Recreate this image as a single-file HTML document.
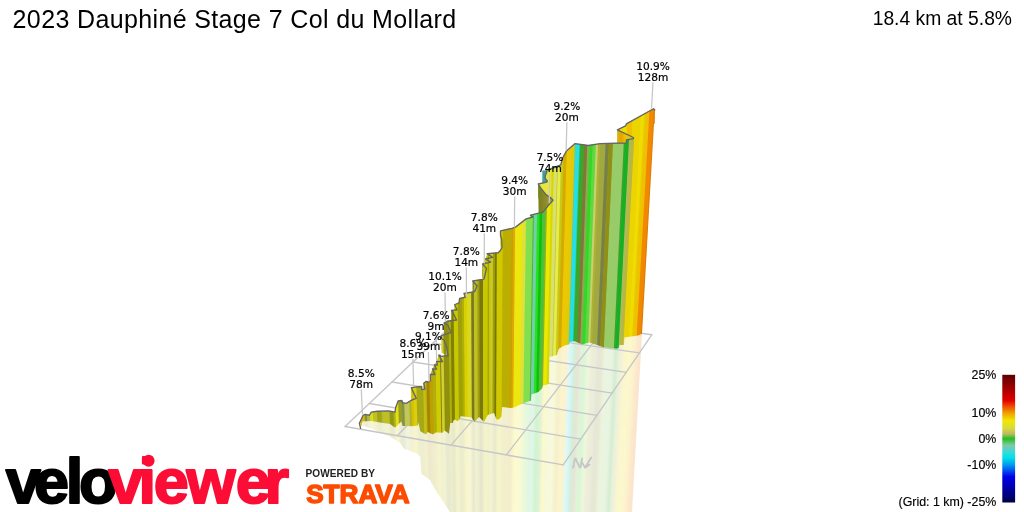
<!DOCTYPE html>
<html lang="en"><head><meta charset="utf-8"><title>2023 Dauphiné Stage 7 Col du Mollard</title>
<style>
html,body{margin:0;padding:0;background:#fff;}
body{width:1024px;height:512px;overflow:hidden;position:relative;font-family:"Liberation Sans",sans-serif;}
svg{position:absolute;left:0;top:0;display:block;}
.t{font-family:"Liberation Sans",sans-serif;fill:#000;}
.lab text{font-family:"DejaVu Sans","Liberation Sans",sans-serif;font-size:10.6px;fill:#000;stroke:#000;stroke-width:0.2px;text-anchor:middle;}
.leg text{font-family:"Liberation Sans",sans-serif;font-size:12.4px;fill:#000;text-anchor:end;stroke:#000;stroke-width:0.15px;}
</style></head><body>
<svg width="1024" height="512" viewBox="0 0 1024 512">
<defs>
<clipPath id="cw"><polygon points="360.60,428.40 359.40,423.40 363.10,415.25 365.00,414.40 369.40,415.25 371.25,412.10 377.50,411.25 388.75,410.90 395.00,412.10 395.60,407.75 398.10,400.90 401.90,400.50 402.50,402.75 406.25,403.40 411.25,400.25 416.25,398.40 411.25,387.75 415.00,387.10 421.25,386.50 421.90,389.60 425.00,389.00 423.75,383.25 426.25,381.40 428.10,382.00 430.30,381.00 430.30,374.50 435.00,374.50 432.50,368.90 436.60,369.20 434.40,364.80 437.50,365.10 436.60,361.40 442.50,361.70 438.75,355.10 440.00,355.10 440.60,356.40 448.10,355.75 446.50,346.90 444.00,340.00 441.50,338.75 441.50,335.60 450.90,332.50 447.75,325.00 444.00,323.10 447.10,321.25 456.50,320.00 453.40,313.50 451.50,310.40 457.10,309.75 454.60,304.75 459.00,302.90 459.60,298.50 465.25,297.25 464.00,293.50 474.60,291.60 477.10,286.00 472.75,281.00 484.00,279.10 486.50,268.50 482.60,264.00 490.75,262.10 485.40,259.00 492.60,257.40 487.30,253.70 498.25,252.75 500.50,250.25 502.00,247.75 501.75,239.60 500.50,235.25 500.50,230.90 511.75,228.40 515.50,227.10 526.10,218.90 533.00,217.00 530.50,215.10 538.60,213.10 543.00,212.00 543.75,211.10 546.25,208.00 550.00,203.60 553.00,200.25 550.50,197.50 546.25,194.90 541.25,188.60 538.25,184.00 546.70,182.20 547.30,181.00 545.40,178.75 545.10,176.25 546.70,172.20 546.70,170.30 553.00,168.00 560.75,164.90 562.60,158.00 566.40,151.10 575.10,143.60 588.25,145.50 600.10,143.60 608.00,143.30 626.40,143.00 626.40,139.80 633.40,138.70 633.40,137.50 617.40,129.90 625.60,125.80 626.40,123.80 653.50,108.75 654.75,110.00 642.00,333.75 638.25,335.60 624.50,337.50 623.90,345.00 619.50,345.00 618.90,348.10 617.00,348.75 603.25,347.25 597.00,345.00 589.50,342.50 582.00,344.40 574.50,341.25 569.50,341.90 568.90,344.40 564.50,345.60 558.90,348.75 557.00,355.00 549.50,356.90 549.10,383.90 542.90,385.75 542.25,388.25 538.50,392.00 531.60,394.50 531.00,400.75 524.00,403.10 514.00,407.50 510.90,408.10 502.10,406.90 501.50,416.25 499.00,419.40 496.50,419.40 494.00,413.10 487.75,415.00 484.00,421.90 479.00,416.90 474.60,421.90 471.50,417.50 460.90,416.25 459.60,418.75 457.75,421.25 454.00,419.40 452.75,423.10 450.25,423.10 449.00,433.75 444.60,430.60 442.75,432.75 435.90,432.50 432.75,434.40 427.75,431.90 425.90,434.40 420.25,431.25 418.40,422.50 417.75,425.60 412.75,426.25 402.50,425.90 401.25,421.50 395.00,427.75 390.00,424.00 381.25,422.75 371.25,420.90 362.50,421.50 360.60,428.40"/><polygon points="482.60,264.00 485.40,259.00 487.30,253.70 492.60,257.40 490.75,262.10"/><polygon points="430.30,374.50 432.50,368.90 434.40,364.80 436.60,361.40 438.75,355.10 442.50,361.70 437.50,365.10 436.60,369.20 435.00,374.50"/><polygon points="398.10,400.70 401.90,400.30 401.90,411.50 398.10,411.90"/><polygon points="401.90,400.30 402.50,402.55 402.50,413.75 401.90,411.50"/><polygon points="402.50,402.55 406.25,403.20 406.25,414.40 402.50,413.75"/><polygon points="406.25,403.20 411.25,400.05 411.25,411.25 406.25,414.40"/><polygon points="411.25,400.05 416.25,398.20 416.25,409.40 411.25,411.25"/><polygon points="416.25,398.20 411.25,387.55 411.25,398.75 416.25,409.40"/><polygon points="411.25,387.55 415.00,386.90 415.00,398.10 411.25,398.75"/><polygon points="415.00,386.90 421.25,386.30 421.25,397.50 415.00,398.10"/><polygon points="421.25,386.30 421.90,389.40 421.90,400.60 421.25,397.50"/><polygon points="421.90,389.40 425.00,388.80 425.00,400.00 421.90,400.60"/><polygon points="425.00,388.80 423.75,383.05 423.75,394.25 425.00,400.00"/><polygon points="423.75,383.05 426.25,381.20 426.25,392.40 423.75,394.25"/><polygon points="426.25,381.20 428.10,381.80 428.10,396.00 426.25,395.40"/><polygon points="428.10,381.80 430.30,380.80 430.30,395.00 428.10,396.00"/><polygon points="430.30,374.30 435.00,374.30 435.00,388.50 430.30,388.50"/><polygon points="435.00,374.30 432.50,368.70 432.50,382.90 435.00,388.50"/><polygon points="432.50,368.70 436.60,369.00 436.60,383.20 432.50,382.90"/><polygon points="436.60,369.00 434.40,364.60 434.40,378.80 436.60,383.20"/><polygon points="434.40,364.60 437.50,364.90 437.50,379.10 434.40,378.80"/><polygon points="437.50,364.90 436.60,361.20 436.60,375.40 437.50,379.10"/><polygon points="436.60,361.20 442.50,361.50 442.50,375.70 436.60,375.40"/><polygon points="442.50,361.50 438.75,354.90 438.75,369.10 442.50,375.70"/><polygon points="438.75,354.90 440.00,354.90 440.00,369.10 438.75,369.10"/><polygon points="440.00,354.90 440.60,356.20 440.60,370.40 440.00,369.10"/><polygon points="440.60,356.20 448.10,355.55 448.10,369.75 440.60,370.40"/><polygon points="448.10,355.55 446.50,346.70 446.50,360.90 448.10,369.75"/><polygon points="446.50,346.70 444.00,339.80 444.00,354.00 446.50,360.90"/><polygon points="444.00,339.80 441.50,338.55 441.50,352.75 444.00,354.00"/><polygon points="441.50,335.40 450.90,332.30 450.90,346.50 441.50,349.60"/><polygon points="450.90,332.30 447.75,324.80 447.75,339.00 450.90,346.50"/><polygon points="447.75,324.80 444.00,322.90 444.00,337.10 447.75,339.00"/><polygon points="444.00,322.90 447.10,321.05 447.10,335.25 444.00,337.10"/><polygon points="447.10,321.05 456.50,319.80 456.50,334.00 447.10,335.25"/><polygon points="456.50,319.80 453.40,313.30 453.40,327.50 456.50,334.00"/><polygon points="453.40,313.30 451.50,310.20 451.50,324.40 453.40,327.50"/><polygon points="451.50,310.20 457.10,309.55 457.10,323.75 451.50,324.40"/><polygon points="457.10,309.55 454.60,304.55 454.60,318.75 457.10,323.75"/><polygon points="454.60,304.55 459.00,302.70 459.00,316.90 454.60,318.75"/><polygon points="459.00,302.70 459.60,298.30 459.60,312.50 459.00,316.90"/><polygon points="459.60,298.30 465.25,297.05 465.25,311.25 459.60,312.50"/><polygon points="465.25,297.05 464.00,293.30 464.00,307.50 465.25,311.25"/><polygon points="464.00,293.30 474.60,291.40 474.60,305.60 464.00,307.50"/><polygon points="474.60,291.40 477.10,285.80 477.10,300.00 474.60,305.60"/><polygon points="477.10,285.80 472.75,280.80 472.75,295.00 477.10,300.00"/><polygon points="472.75,280.80 484.00,278.90 484.00,293.10 472.75,295.00"/><polygon points="484.00,278.90 486.50,268.30 486.50,282.50 484.00,293.10"/><polygon points="486.50,268.30 482.60,263.80 482.60,278.00 486.50,282.50"/><polygon points="482.60,263.80 490.75,261.90 490.75,276.10 482.60,278.00"/><polygon points="490.75,261.90 485.40,258.80 485.40,273.00 490.75,276.10"/><polygon points="485.40,258.80 492.60,257.20 492.60,271.40 485.40,273.00"/><polygon points="492.60,257.20 487.30,253.50 487.30,267.70 492.60,271.40"/><polygon points="487.30,253.50 498.25,252.55 498.25,266.75 487.30,267.70"/><polygon points="498.25,252.55 500.50,250.05 500.50,264.25 498.25,266.75"/><polygon points="500.50,250.05 502.00,247.55 502.00,261.75 500.50,264.25"/><polygon points="501.75,239.40 500.50,235.05 500.50,249.25 501.75,253.60"/><polygon points="500.50,230.70 511.75,228.20 511.75,242.40 500.50,244.90"/><polygon points="511.75,228.20 515.50,226.90 515.50,241.10 511.75,242.40"/><polygon points="515.50,226.90 526.10,218.70 526.10,232.90 515.50,241.10"/><polygon points="526.10,218.70 533.00,216.80 533.00,231.00 526.10,232.90"/><polygon points="533.00,216.80 530.50,214.90 530.50,229.10 533.00,231.00"/><polygon points="530.50,214.90 538.60,212.90 538.60,227.10 530.50,229.10"/><polygon points="538.60,212.90 543.00,211.80 543.00,226.00 538.60,227.10"/><polygon points="543.00,211.80 543.75,210.90 543.75,225.10 543.00,226.00"/><polygon points="543.75,210.90 546.25,207.80 546.25,222.00 543.75,225.10"/><polygon points="546.25,207.80 550.00,203.40 550.00,217.60 546.25,222.00"/><polygon points="550.00,203.40 553.00,200.05 553.00,214.25 550.00,217.60"/><polygon points="553.00,200.05 550.50,197.30 550.50,211.50 553.00,214.25"/><polygon points="550.50,197.30 546.25,194.70 546.25,208.90 550.50,211.50"/><polygon points="546.25,194.70 541.25,188.40 541.25,202.60 546.25,208.90"/><polygon points="541.25,188.40 538.25,183.80 538.25,198.00 541.25,202.60"/><polygon points="538.25,183.80 546.70,182.00 546.70,196.20 538.25,198.00"/><polygon points="546.70,182.00 547.30,180.80 547.30,195.00 546.70,196.20"/><polygon points="547.30,180.80 545.40,178.55 545.40,192.75 547.30,195.00"/><polygon points="545.10,176.05 546.70,172.00 546.70,186.20 545.10,190.25"/><polygon points="546.70,170.10 553.00,167.80 553.00,182.00 546.70,184.30"/><polygon points="553.00,167.80 560.75,164.70 560.75,178.90 553.00,182.00"/><polygon points="560.75,164.70 562.60,157.80 562.60,172.00 560.75,178.90"/><polygon points="562.60,157.80 566.40,150.90 566.40,165.10 562.60,172.00"/><polygon points="566.40,150.90 575.10,143.40 575.10,157.60 566.40,165.10"/><polygon points="575.10,143.40 588.25,145.30 588.25,159.50 575.10,157.60"/><polygon points="588.25,145.30 600.10,143.40 600.10,157.60 588.25,159.50"/><polygon points="600.10,143.40 608.00,143.10 608.00,157.30 600.10,157.60"/><polygon points="608.00,143.10 626.40,142.80 626.40,157.00 608.00,157.30"/><polygon points="626.40,139.60 633.40,138.50 633.40,152.70 626.40,153.80"/><polygon points="633.40,137.30 617.40,129.70 617.40,143.90 633.40,151.50"/><polygon points="617.40,129.70 625.60,125.60 625.60,139.80 617.40,143.90"/><polygon points="625.60,125.60 626.40,123.60 626.40,137.80 625.60,139.80"/><polygon points="626.40,123.60 653.50,108.55 653.50,122.75 626.40,137.80"/><polygon points="653.50,108.55 654.75,109.80 654.75,124.00 653.50,122.75"/></clipPath>
<clipPath id="cr"><polygon points="361.00,425.00 372.50,429.00 390.00,436.50 400.00,442.75 402.50,446.50 404.00,448.75 417.75,453.75 420.25,456.90 421.25,473.75 430.00,480.00 436.25,491.25 443.75,502.50 450.50,513.00 632.00,513.00 642.00,333.75 638.25,335.60 624.50,337.50 623.90,345.00 619.50,345.00 618.90,348.10 617.00,348.75 603.25,347.25 597.00,345.00 589.50,342.50 582.00,344.40 574.50,341.25 569.50,341.90 568.90,344.40 564.50,345.60 558.90,348.75 557.00,355.00 549.50,356.90 549.10,383.90 542.90,385.75 542.25,388.25 538.50,392.00 531.60,394.50 531.00,400.75 524.00,403.10 514.00,407.50 510.90,408.10 502.10,406.90 501.50,416.25 499.00,419.40 496.50,419.40 494.00,413.10 487.75,415.00 484.00,421.90 479.00,416.90 474.60,421.90 471.50,417.50 460.90,416.25 459.60,418.75 457.75,421.25 454.00,419.40 452.75,423.10 450.25,423.10 449.00,433.75 444.60,430.60 442.75,432.75 435.90,432.50 432.75,434.40 427.75,431.90 425.90,434.40 420.25,431.25 418.40,422.50 417.75,425.60 412.75,426.25 402.50,425.90 401.25,421.50 395.00,427.75 390.00,424.00 381.25,422.75 371.25,420.90 362.50,421.50 360.60,428.40"/></clipPath>
<filter id="bl" x="0" y="0" width="100%" height="100%" filterUnits="userSpaceOnUse"><feGaussianBlur stdDeviation="0.5 0"/></filter>
<filter id="bl2" x="0" y="0" width="100%" height="100%" filterUnits="userSpaceOnUse"><feGaussianBlur stdDeviation="0.9 0"/></filter>
<linearGradient id="gf1" gradientUnits="userSpaceOnUse" x1="538" y1="0" x2="553" y2="0"><stop offset="0" stop-color="#7c7c1c"/><stop offset="0.5" stop-color="#8c8c2c"/><stop offset="1" stop-color="#a8a848"/></linearGradient>
<linearGradient id="gf2" gradientUnits="userSpaceOnUse" x1="617.4" y1="0" x2="633.4" y2="0"><stop offset="0" stop-color="#e8b400"/><stop offset="0.25" stop-color="#e0a400"/><stop offset="0.5" stop-color="#ecc400"/><stop offset="0.75" stop-color="#d8c818"/><stop offset="1" stop-color="#c4bc20"/></linearGradient>
<linearGradient id="lg" x1="0" y1="0" x2="0" y2="1">
<stop offset="0" stop-color="#5a0000"/><stop offset="0.10" stop-color="#a00000"/><stop offset="0.20" stop-color="#e00000"/>
<stop offset="0.25" stop-color="#f05000"/><stop offset="0.30" stop-color="#f0a000"/><stop offset="0.36" stop-color="#f0e800"/>
<stop offset="0.42" stop-color="#d8d840"/><stop offset="0.465" stop-color="#b8b860"/><stop offset="0.50" stop-color="#20c020"/>
<stop offset="0.55" stop-color="#80c8a0"/><stop offset="0.60" stop-color="#40d8d8"/><stop offset="0.65" stop-color="#00e0e8"/>
<stop offset="0.70" stop-color="#00a0f0"/><stop offset="0.75" stop-color="#0050f0"/><stop offset="0.80" stop-color="#0000e8"/>
<stop offset="0.90" stop-color="#0000a0"/><stop offset="1" stop-color="#000048"/>
</linearGradient>
<g id="stripes">
<polygon fill="#d8b810" points="342.80,60.00 348.52,60.00 371.02,540.00 366.13,540.00"/>
<polygon fill="#8c9030" points="347.92,60.00 351.37,60.00 373.40,540.00 370.42,540.00"/>
<polygon fill="#b0b848" points="350.77,60.00 354.90,60.00 376.35,540.00 372.80,540.00"/>
<polygon fill="#e0dc10" points="354.30,60.00 358.09,60.00 379.02,540.00 375.75,540.00"/>
<polygon fill="#c0c020" points="357.49,60.00 362.76,60.00 382.93,540.00 378.42,540.00"/>
<polygon fill="#a0a418" points="362.16,60.00 367.88,60.00 387.21,540.00 382.33,540.00"/>
<polygon fill="#b8b838" points="367.28,60.00 369.87,60.00 388.88,540.00 386.61,540.00"/>
<polygon fill="#bcc028" points="369.27,60.00 376.99,60.00 394.84,540.00 388.28,540.00"/>
<polygon fill="#909818" points="376.39,60.00 381.54,60.00 398.65,540.00 394.24,540.00"/>
<polygon fill="#b0b020" points="380.94,60.00 383.82,60.00 400.55,540.00 398.05,540.00"/>
<polygon fill="#e4e010" points="383.22,60.00 387.24,60.00 403.41,540.00 399.95,540.00"/>
<polygon fill="#98a020" points="386.64,60.00 391.22,60.00 406.75,540.00 402.81,540.00"/>
<polygon fill="#889048" points="390.62,60.00 394.07,60.00 409.13,540.00 406.15,540.00"/>
<polygon fill="#c0c858" points="393.47,60.00 399.76,60.00 413.89,540.00 408.53,540.00"/>
<polygon fill="#b0b030" points="399.16,60.00 402.04,60.00 415.80,540.00 413.29,540.00"/>
<polygon fill="#d8c000" points="401.44,60.00 404.77,60.00 418.08,540.00 415.20,540.00"/>
<polygon fill="#d8d010" points="404.17,60.00 408.30,60.00 421.04,540.00 417.48,540.00"/>
<polygon fill="#a8a818" points="407.70,60.00 416.00,60.00 427.48,540.00 420.44,540.00"/>
<polygon fill="#c0c018" points="415.40,60.00 418.56,60.00 429.62,540.00 426.88,540.00"/>
<polygon fill="#d0b000" points="417.96,60.00 419.69,60.00 430.56,540.00 429.02,540.00"/>
<polygon fill="#a08800" points="419.09,60.00 423.07,60.00 433.40,540.00 429.96,540.00"/>
<polygon fill="#c0a000" points="422.47,60.00 426.91,60.00 436.61,540.00 432.80,540.00"/>
<polygon fill="#b0b010" points="426.31,60.00 430.41,60.00 439.54,540.00 436.01,540.00"/>
<polygon fill="#d0cc00" points="429.81,60.00 435.49,60.00 443.79,540.00 438.94,540.00"/>
<polygon fill="#808010" points="434.89,60.00 436.62,60.00 444.73,540.00 443.19,540.00"/>
<polygon fill="#d0d030" points="436.02,60.00 439.56,60.00 447.19,540.00 444.13,540.00"/>
<polygon fill="#909010" points="438.96,60.00 445.65,60.00 452.29,540.00 446.59,540.00"/>
<polygon fill="#b0b010" points="445.05,60.00 447.91,60.00 454.18,540.00 451.69,540.00"/>
<polygon fill="#808000" points="447.31,60.00 451.30,60.00 457.01,540.00 453.58,540.00"/>
<polygon fill="#c8c800" points="450.70,60.00 455.82,60.00 460.79,540.00 456.41,540.00"/>
<polygon fill="#a0a008" points="455.22,60.00 460.33,60.00 464.57,540.00 460.19,540.00"/>
<polygon fill="#b0b000" points="459.73,60.00 462.59,60.00 466.46,540.00 463.97,540.00"/>
<polygon fill="#d8d000" points="461.99,60.00 465.98,60.00 469.30,540.00 465.86,540.00"/>
<polygon fill="#d8d820" points="465.38,60.00 470.49,60.00 473.07,540.00 468.70,540.00"/>
<polygon fill="#787820" points="469.89,60.00 473.43,60.00 475.53,540.00 472.47,540.00"/>
<polygon fill="#c0c020" points="472.83,60.00 477.27,60.00 478.74,540.00 474.93,540.00"/>
<polygon fill="#a0a010" points="476.67,60.00 479.53,60.00 480.63,540.00 478.14,540.00"/>
<polygon fill="#787810" points="478.93,60.00 483.36,60.00 483.84,540.00 480.03,540.00"/>
<polygon fill="#c8c800" points="482.76,60.00 488.54,60.00 488.17,540.00 483.24,540.00"/>
<polygon fill="#989800" points="487.94,60.00 489.62,60.00 489.08,540.00 487.57,540.00"/>
<polygon fill="#c8c800" points="489.02,60.00 491.83,60.00 490.93,540.00 488.48,540.00"/>
<polygon fill="#c8c838" points="491.23,60.00 494.05,60.00 492.78,540.00 490.33,540.00"/>
<polygon fill="#a0a000" points="493.45,60.00 496.26,60.00 494.64,540.00 492.18,540.00"/>
<polygon fill="#787800" points="495.66,60.00 498.20,60.00 496.26,540.00 494.04,540.00"/>
<polygon fill="#d0c800" points="497.60,60.00 504.45,60.00 501.49,540.00 495.66,540.00"/>
<polygon fill="#bcae00" points="503.85,60.00 513.42,60.00 508.99,540.00 500.89,540.00"/>
<polygon fill="#c8a000" points="512.82,60.00 515.52,60.00 510.75,540.00 508.39,540.00"/>
<polygon fill="#e0a800" points="514.92,60.00 517.57,60.00 512.47,540.00 510.15,540.00"/>
<polygon fill="#ece810" points="516.97,60.00 525.04,60.00 518.72,540.00 511.87,540.00"/>
<polygon fill="#e0e038" points="524.44,60.00 528.92,60.00 521.96,540.00 518.12,540.00"/>
<polygon fill="#80e050" points="528.32,60.00 536.11,60.00 527.98,540.00 521.36,540.00"/>
<polygon fill="#50b040" points="535.51,60.00 537.22,60.00 528.91,540.00 527.38,540.00"/>
<polygon fill="#70d0a8" points="536.62,60.00 540.54,60.00 531.68,540.00 528.31,540.00"/>
<polygon fill="#28e020" points="539.94,60.00 543.20,60.00 533.91,540.00 531.08,540.00"/>
<polygon fill="#10c010" points="542.60,60.00 546.07,60.00 536.32,540.00 533.31,540.00"/>
<polygon fill="#50c038" points="545.47,60.00 549.39,60.00 539.09,540.00 535.72,540.00"/>
<polygon fill="#90b020" points="548.79,60.00 550.78,60.00 540.25,540.00 538.49,540.00"/>
<polygon fill="#eaea00" points="550.18,60.00 554.75,60.00 543.57,540.00 539.65,540.00"/>
<polygon fill="#d8d800" points="554.15,60.00 556.99,60.00 545.45,540.00 542.97,540.00"/>
<polygon fill="#d8e070" points="556.39,60.00 560.41,60.00 548.31,540.00 544.85,540.00"/>
<polygon fill="#c0c040" points="559.81,60.00 561.18,60.00 548.95,540.00 547.71,540.00"/>
<polygon fill="#e8ec48" points="560.58,60.00 564.20,60.00 551.49,540.00 548.35,540.00"/>
<polygon fill="#c8c818" points="563.60,60.00 566.68,60.00 553.56,540.00 550.89,540.00"/>
<polygon fill="#d4ac00" points="566.08,60.00 569.99,60.00 556.32,540.00 552.96,540.00"/>
<polygon fill="#ecc800" points="569.39,60.00 575.22,60.00 560.70,540.00 555.72,540.00"/>
<polygon fill="#d8cc10" points="574.62,60.00 577.97,60.00 563.00,540.00 560.10,540.00"/>
<polygon fill="#80c080" points="577.37,60.00 578.79,60.00 563.69,540.00 562.40,540.00"/>
<polygon fill="#20e0e8" points="578.19,60.00 582.76,60.00 567.01,540.00 563.09,540.00"/>
<polygon fill="#30c088" points="582.16,60.00 583.47,60.00 567.61,540.00 566.41,540.00"/>
<polygon fill="#38a828" points="582.87,60.00 587.60,60.00 571.06,540.00 567.01,540.00"/>
<polygon fill="#807838" points="587.00,60.00 590.91,60.00 573.83,540.00 570.46,540.00"/>
<polygon fill="#90a850" points="590.31,60.00 593.11,60.00 575.67,540.00 573.23,540.00"/>
<polygon fill="#30d828" points="592.51,60.00 596.41,60.00 578.43,540.00 575.07,540.00"/>
<polygon fill="#60d840" points="595.81,60.00 599.72,60.00 581.20,540.00 577.83,540.00"/>
<polygon fill="#c8d070" points="599.12,60.00 601.92,60.00 583.04,540.00 580.60,540.00"/>
<polygon fill="#b0b030" points="601.32,60.00 604.12,60.00 584.88,540.00 582.44,540.00"/>
<polygon fill="#a0a840" points="603.52,60.00 609.63,60.00 589.49,540.00 584.28,540.00"/>
<polygon fill="#788048" points="609.03,60.00 612.93,60.00 592.26,540.00 588.89,540.00"/>
<polygon fill="#909018" points="612.33,60.00 617.33,60.00 595.94,540.00 591.66,540.00"/>
<polygon fill="#98cc68" points="616.73,60.00 618.34,60.00 596.78,540.00 595.34,540.00"/>
<polygon fill="#98cc68" points="617.74,60.00 628.35,60.00 605.16,540.00 596.18,540.00"/>
<polygon fill="#40a030" points="627.75,60.00 629.56,60.00 606.17,540.00 604.56,540.00"/>
<polygon fill="#18b020" points="628.96,60.00 633.63,60.00 609.58,540.00 605.57,540.00"/>
<polygon fill="#b0b860" points="633.03,60.00 635.39,60.00 611.05,540.00 608.98,540.00"/>
<polygon fill="#b8b840" points="634.79,60.00 638.85,60.00 613.95,540.00 610.45,540.00"/>
<polygon fill="#ecd400" points="638.25,60.00 644.35,60.00 618.55,540.00 613.35,540.00"/>
<polygon fill="#f0dc00" points="643.75,60.00 647.92,60.00 621.54,540.00 617.95,540.00"/>
<polygon fill="#e8c800" points="647.32,60.00 649.85,60.00 623.15,540.00 620.94,540.00"/>
<polygon fill="#f0c000" points="649.25,60.00 652.87,60.00 625.68,540.00 622.55,540.00"/>
<polygon fill="#f08800" points="652.27,60.00 657.38,60.00 629.45,540.00 625.08,540.00"/>
<polygon fill="#e07800" points="656.78,60.00 660.02,60.00 631.66,540.00 628.85,540.00"/>
</g>
</defs>
<rect width="1024" height="512" fill="#fff"/>
<!-- reflection -->
<g clip-path="url(#cr)" opacity="0.2"><g filter="url(#bl2)"><use href="#stripes"/></g></g>
<!-- grid -->
<g stroke="#c6c6c8" stroke-width="1.35" fill="none" stroke-linecap="round">
<line x1="345.08" y1="426.48" x2="468.83" y2="309.10"/>
<line x1="397.31" y1="435.69" x2="513.00" y2="315.29"/>
<line x1="451.04" y1="445.16" x2="558.21" y2="321.61"/>
<line x1="506.33" y1="454.91" x2="604.47" y2="328.09"/>
<line x1="563.25" y1="464.94" x2="651.85" y2="334.72"/>
<line x1="345.08" y1="426.48" x2="563.25" y2="464.94"/>
<line x1="369.33" y1="403.47" x2="580.76" y2="439.20"/>
<line x1="391.94" y1="382.03" x2="597.02" y2="415.30"/>
<line x1="413.06" y1="362.00" x2="612.15" y2="393.06"/>
<line x1="432.84" y1="343.25" x2="626.27" y2="372.31"/>
<line x1="451.39" y1="325.65" x2="639.47" y2="352.91"/>
<line x1="468.83" y1="309.10" x2="651.85" y2="334.72"/>
</g>
<text x="572" y="468" font-family="Liberation Sans,sans-serif" font-style="italic" font-size="15" fill="#c6c6c8" stroke="#c6c6c8" stroke-width="0.6">N</text>
<path d="M591.2 457.5 L585.3 467.3 M582.3 463 L585.2 467.8 L589.6 464.6" stroke="#c6c6c8" stroke-width="1.8" fill="none" stroke-linecap="round" stroke-linejoin="round"/>
<!-- wall -->
<g clip-path="url(#cw)"><g filter="url(#bl)"><use href="#stripes"/>
<polygon fill="#e6e63c" points="538.25,184.00 546.70,182.20 547.30,181.00 545.40,178.75 545.10,176.25 546.70,172.20 546.70,170.30 551.00,168.50 551.00,198.00 550.50,197.50 546.25,194.90 541.25,188.60"/>
<polygon fill="#ece000" points="617.40,129.90 625.60,125.80 626.40,123.80 627.00,123.50 627.00,134.60"/>
<polygon fill="#f0c000" points="626.40,123.80 632.00,121.00 632.00,137.00 627.00,134.60"/>
<polygon fill="#ecd400" points="632.00,121.00 636.20,118.50 636.20,139.00 632.00,137.00"/>
</g></g>
<polygon fill="#3ca0a0" points="542.30,170.60 546.70,170.30 546.70,172.20 545.10,176.25 545.40,178.75 547.30,181.00 546.70,182.20 542.30,183.10"/>
<polygon fill="url(#gf1)" points="538.25,184.00 541.25,188.60 546.25,194.90 550.50,197.50 553.00,200.25 550.00,203.60 546.25,208.00 543.75,211.10 543.00,212.00 538.60,213.10"/>
<polygon fill="url(#gf2)" points="617.40,129.90 633.40,137.50 633.40,138.70 626.40,139.80 626.40,143.00 617.40,143.30"/>
<g fill="none" stroke="#646666" stroke-width="1.35" stroke-linejoin="round" stroke-linecap="round">
<polyline points="360.60,428.40 359.40,423.40 363.10,415.25 365.00,414.40 369.40,415.25 371.25,412.10 377.50,411.25 388.75,410.90 395.00,412.10 395.60,407.75 398.10,400.90 401.90,400.50 402.50,402.75 406.25,403.40 411.25,400.25 416.25,398.40 411.25,387.75 415.00,387.10 421.25,386.50 421.90,389.60 425.00,389.00 423.75,383.25 426.25,381.40 428.10,382.00 430.30,381.00 430.30,374.50 435.00,374.50 432.50,368.90 436.60,369.20 434.40,364.80 437.50,365.10 436.60,361.40 442.50,361.70 438.75,355.10 440.00,355.10 440.60,356.40 448.10,355.75 446.50,346.90 444.00,340.00 441.50,338.75 441.50,335.60 450.90,332.50 447.75,325.00 444.00,323.10 447.10,321.25 456.50,320.00 453.40,313.50 451.50,310.40 457.10,309.75 454.60,304.75 459.00,302.90 459.60,298.50 465.25,297.25 464.00,293.50 474.60,291.60 477.10,286.00 472.75,281.00 484.00,279.10 486.50,268.50 482.60,264.00 490.75,262.10 485.40,259.00 492.60,257.40 487.30,253.70 498.25,252.75 500.50,250.25 502.00,247.75 501.75,239.60 500.50,235.25 500.50,230.90 511.75,228.40 515.50,227.10 526.10,218.90 533.00,217.00 530.50,215.10 538.60,213.10 543.00,212.00 543.75,211.10 546.25,208.00 550.00,203.60 553.00,200.25 550.50,197.50 546.25,194.90 541.25,188.60 538.25,184.00 546.70,182.20 547.30,181.00 545.40,178.75 545.10,176.25 546.70,172.20 546.70,170.30 553.00,168.00 560.75,164.90 562.60,158.00 566.40,151.10 575.10,143.60 588.25,145.50 600.10,143.60 608.00,143.30 626.40,143.00 626.40,139.80 633.40,138.70 633.40,137.50 617.40,129.90 625.60,125.80 626.40,123.80 653.50,108.75 654.75,110.00"/>
<polyline points="487.30,253.70 489.60,255.00"/>
</g>
<!-- labels -->
<g class="lab">
<line x1="653.00" y1="82.25" x2="651.50" y2="108.50" stroke="#c6c6c6" stroke-width="1.25"/>
<line x1="566.90" y1="122.25" x2="566.11" y2="150.50" stroke="#c6c6c6" stroke-width="1.25"/>
<line x1="549.90" y1="173.75" x2="549.24" y2="203.00" stroke="#c6c6c6" stroke-width="1.25"/>
<line x1="514.70" y1="196.50" x2="514.38" y2="227.50" stroke="#c6c6c6" stroke-width="1.25"/>
<line x1="484.30" y1="233.20" x2="484.32" y2="263.50" stroke="#c6c6c6" stroke-width="1.25"/>
<line x1="466.30" y1="267.40" x2="466.52" y2="297.50" stroke="#c6c6c6" stroke-width="1.25"/>
<line x1="445.00" y1="292.40" x2="445.45" y2="322.00" stroke="#c6c6c6" stroke-width="1.25"/>
<line x1="436.10" y1="331.80" x2="436.65" y2="361.00" stroke="#c6c6c6" stroke-width="1.25"/>
<line x1="428.40" y1="352.00" x2="429.04" y2="381.60" stroke="#c6c6c6" stroke-width="1.25"/>
<line x1="412.90" y1="359.20" x2="413.64" y2="386.00" stroke="#c6c6c6" stroke-width="1.25"/>
<line x1="361.25" y1="389.30" x2="362.45" y2="414.50" stroke="#c6c6c6" stroke-width="1.25"/>
<text x="653.00" y="69.85">10.9%</text><text x="653.00" y="80.70">128m</text>
<text x="566.90" y="109.85">9.2%</text><text x="566.90" y="120.70">20m</text>
<text x="549.90" y="161.35">7.5%</text><text x="549.90" y="172.20">74m</text>
<text x="514.70" y="184.10">9.4%</text><text x="514.70" y="194.95">30m</text>
<text x="484.30" y="220.80">7.8%</text><text x="484.30" y="231.65">41m</text>
<text x="466.30" y="255.00">7.8%</text><text x="466.30" y="265.85">14m</text>
<text x="445.00" y="280.00">10.1%</text><text x="445.00" y="290.85">20m</text>
<text x="436.10" y="319.40">7.6%</text><text x="436.10" y="330.25">9m</text>
<text x="428.40" y="339.60">9.1%</text><text x="428.40" y="350.45">39m</text>
<text x="412.90" y="346.80">8.6%</text><text x="412.90" y="357.65">15m</text>
<text x="361.25" y="376.90">8.5%</text><text x="361.25" y="387.75">78m</text>
</g>
<!-- legend -->
<rect x="1002.3" y="374.8" width="12.8" height="127.7" fill="url(#lg)"/>
<g class="leg">
<text x="996.3" y="379">25%</text>
<text x="996.3" y="417.2">10%</text>
<text x="996.3" y="443.2">0%</text>
<text x="996.3" y="468.6">-10%</text>
<text x="996.3" y="506">(Grid: 1 km) -25%</text>
</g>
<!-- titles -->
<text class="t" x="12.6" y="27.6" font-size="25" textLength="443.6" lengthAdjust="spacing">2023 Dauphiné Stage 7 Col du Mollard</text>
<text class="t" x="1012" y="25.4" font-size="19.3" text-anchor="end">18.4 km at 5.8%</text>
<!-- logos -->
<g font-family="Liberation Sans,sans-serif" font-weight="bold">
<g font-size="63" stroke-width="2" stroke-linejoin="round">
<text y="503" x="5.7 34.1 65.8 79" fill="#000" stroke="#000">velo</text>
<text y="503" x="108.2 138.6 153.8 186.5 235.8 264.5" fill="#fc0d35" stroke="#fc0d35">viewer</text>
<circle cx="148.6" cy="460.7" r="5" fill="#fc0d35" stroke="#fc0d35"/>
</g>
<text x="305.5" y="477" font-size="10.1" textLength="69.5" lengthAdjust="spacing" fill="#222">POWERED BY</text>
<text x="306.2" y="502.6" font-size="25.4" textLength="103.5" lengthAdjust="spacingAndGlyphs" fill="#fc4c02" stroke="#fc4c02" stroke-width="1.5" stroke-linejoin="round">STRAVA</text>
</g>
</svg>
</body></html>
